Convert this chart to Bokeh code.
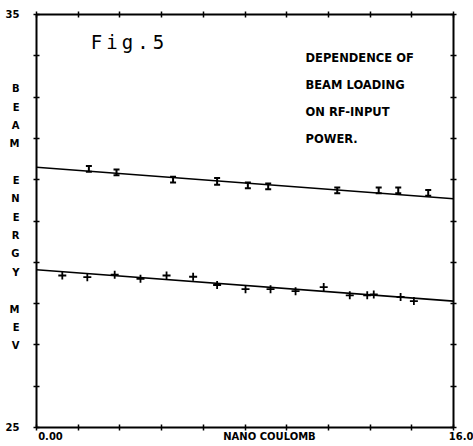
from bokeh.plotting import figure
from bokeh.models import Label, LinearAxis, FixedTicker, Range1d, ColumnDataSource
from bokeh.embed import file_html
from bokeh.resources import INLINE

# ---- data ----
upper_x = [2.01, 3.07, 5.24, 6.93, 8.11, 8.89, 11.54, 13.13, 13.88, 15.03]
upper_y = [31.26, 31.18, 31.00, 30.96, 30.86, 30.84, 30.74, 30.74, 30.74, 30.68]
upper_err = [0.07, 0.07, 0.07, 0.08, 0.07, 0.07, 0.07, 0.07, 0.07, 0.07]

lower_x = [0.99, 1.95, 3.00, 3.99, 4.99, 6.01, 6.93, 8.02, 8.98, 9.94,
           11.02, 12.02, 12.69, 12.94, 13.97, 14.48]
lower_y = [28.68, 28.64, 28.70, 28.60, 28.68, 28.65, 28.45, 28.35, 28.35, 28.30,
           28.40, 28.20, 28.20, 28.22, 28.16, 28.06]

fit_x = [0.0, 16.0]
upper_fit = [31.30, 30.54]
lower_fit = [28.82, 28.06]

x_ticks = [0.0, 1.6, 3.2, 4.8, 6.4, 8.0, 9.6, 11.2, 12.8, 14.4, 16.0]
y_ticks = [25, 26, 27, 28, 29, 30, 31, 32, 33, 34, 35]

x_min_label, x_max_label = "0.00", "16.0"
y_min_label, y_max_label = "25", "35"
x_title = "NANO COULOMB"
ylabel_letters = ["B", "E", "A", "M", "", "E", "N", "E", "R", "G", "Y", "", "M", "E", "V"]
note_lines = ["DEPENDENCE OF", "BEAM LOADING", "ON RF-INPUT", "POWER."]
fig_title = "Fig.5"

# ---- figure ----
W, H = 473, 446
p = figure(width=W, height=H, output_backend="svg", toolbar_location=None,
           x_range=Range1d(0, 16), y_range=Range1d(25, 35),
           x_axis_location=None, y_axis_location=None,
           min_border_left=36, min_border_right=20, min_border_top=14, min_border_bottom=19)
p.grid.visible = False
p.outline_line_color = None
p.background_fill_color = "white"
p.border_fill_color = "white"

# pixel <-> data helpers (frame spans 36..453 x 14..427 in the picture)
px_x = 16.0 / 417.0
px_y = 10.0 / 413.0

def X(px):
    return (px - 36) * px_x

def Y(py):
    return 35 - (py - 14) * px_y

def make_axis(majors, minors, overrides, standoff):
    ax = LinearAxis(ticker=FixedTicker(ticks=majors, minor_ticks=minors))
    ax.axis_line_width = 2
    ax.axis_line_color = "black"
    ax.major_tick_line_color = None
    ax.major_tick_in = 0
    ax.major_tick_out = 0
    ax.minor_tick_in = 3
    ax.minor_tick_out = 3
    ax.minor_tick_line_width = 1.5
    ax.minor_tick_line_color = "black"
    ax.major_label_overrides = overrides
    ax.major_label_standoff = standoff
    ax.major_label_text_font = "DejaVu Sans"
    ax.major_label_text_font_style = "bold"
    ax.major_label_text_font_size = "10px"
    ax.major_label_text_color = "black"
    return ax

# bottom axis: labels 0.00, NANO COULOMB, 16.0 (16.0 starts at the right edge and runs off the page)
pos_min, pos_title, pos_max = X(50), X(269), 16.0
bottom_majors = [pos_min, pos_title, pos_max]
bottom_over = {pos_min: x_min_label, pos_title: x_title,
               pos_max: "\u00a0" * 7 + x_max_label}
p.add_layout(make_axis(bottom_majors, x_ticks, bottom_over, 0), "below")
p.add_layout(make_axis([], x_ticks, {}, 0), "above")

# left axis: 35 / 25 and the stacked letters of the y title
left_majors = [35.0, 25.0]
left_over = {35.0: y_max_label, 25.0: y_min_label}
for i, ch in enumerate(ylabel_letters):
    if ch:
        yy = Y(88.3 + i * 18.35)
        left_majors.append(yy)
        left_over[yy] = ch
p.add_layout(make_axis(left_majors, y_ticks, left_over, 14), "left")
p.add_layout(make_axis([], y_ticks, {}, 0), "right")

# fitted lines
p.line(fit_x, upper_fit, line_color="black", line_width=1.6)
p.line(fit_x, lower_fit, line_color="black", line_width=1.6)

# upper series with error bars
src_u = ColumnDataSource(dict(x=upper_x, y=upper_y,
                              lo=[y - e for y, e in zip(upper_y, upper_err)],
                              hi=[y + e for y, e in zip(upper_y, upper_err)]))
p.segment(x0="x", y0="lo", x1="x", y1="hi", source=src_u, line_color="black", line_width=2)
p.scatter(x="x", y="lo", source=src_u, marker="dash", size=6, line_color="black", line_width=2)
p.scatter(x="x", y="hi", source=src_u, marker="dash", size=6, line_color="black", line_width=2)

# lower series
p.scatter(lower_x, lower_y, marker="cross", size=8, line_color="black", line_width=1.8)

# ---- texts inside the frame ----
def lab(text, x, y, size, align="center", baseline="middle", font="DejaVu Sans", style="bold"):
    p.add_layout(Label(x=x, y=y, text=text, text_font=font, text_font_size=size,
                       text_font_style=style, text_color="black",
                       text_align=align, text_baseline=baseline))

for i, line in enumerate(note_lines):
    lab(line, X(305), Y(57 + i * 27), "11.5px", align="left")

for i, ch in enumerate(fig_title):
    lab(ch, X(96 + i * 15.5), Y(41), "19px", font="DejaVu Sans Mono", style="normal")

open("out.html", "w").write(file_html(p, INLINE))
